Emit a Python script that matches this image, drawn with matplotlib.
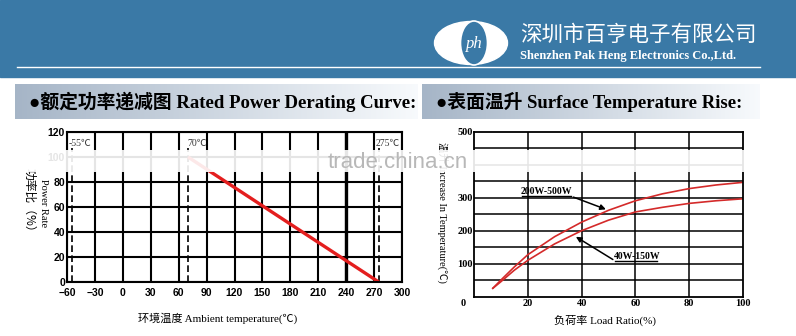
import matplotlib
matplotlib.use('Agg')
import matplotlib.pyplot as plt
import numpy as np
from matplotlib.patches import Rectangle, Ellipse

SERIF = ['Liberation Serif', 'Noto Sans CJK SC']
SANS = ['Liberation Sans', 'Noto Sans CJK SC']
CJK = ['Noto Sans CJK SC', 'DejaVu Sans']
BLUE = '#3a79a6'

# rated power derating curve
derate_temp = [70, 275]
derate_power = [100, 0]
derate_xticks = [-60, -30, 0, 30, 60, 90, 120, 150, 180, 210, 240, 270, 300]
derate_xlabels = ['−60', '−30', '0', '30', '60', '90', '120', '150', '180', '210', '240', '270', '300']
derate_yticks = [0, 20, 40, 60, 80, 100, 120]
derate_marks = [-55, 70, 275]
derate_mark_labels = ['-55℃', '70℃', '275℃']

# surface temperature rise
load = [7, 10, 15, 20, 30, 40, 50, 60, 70, 80, 90, 100]
rise_hi = [25, 50, 90, 127, 182, 226, 262, 291, 312, 328, 339, 347]
rise_lo = [25, 45, 80, 110, 160, 200, 232, 257, 271, 283, 291, 297]
rise_xticks = [20, 40, 60, 80, 100]
rise_yticks = [100, 200, 300, 500]

W, H = 796, 336
fig = plt.figure(figsize=(W / 100, H / 100), dpi=100)

# background layer (pixel coords)
bg = fig.add_axes([0, 0, 1, 1], zorder=0)
bg.set_axis_off()
bg.add_patch(Rectangle((0, 0), W, 77, color=BLUE))
bg.plot([17, 760], [67, 67], color='white', lw=1)

# logo
bg.add_patch(Ellipse((471, 43), 73, 43, color='white'))
bg.add_patch(Ellipse((474, 43), 27, 44, fc=BLUE, ec='white', lw=1.2))
bg.text(474, 44, 'ph', color='white', fontsize=12, style='italic',
        family='Liberation Serif', ha='center', va='center')

bg.text(520, 35, '深圳市百亨电子有限公司', color='white', fontsize=15.5,
        family=CJK, va='center', ha='left')
bg.text(520, 56, 'Shenzhen Pak Heng Electronics Co.,Ltd.', color='white',
        fontsize=9, fontweight='bold', family='Liberation Serif', va='center', ha='left')

# title bars with gradient
c0 = np.array([0.65, 0.71, 0.78])
c1 = np.array([0.97, 0.98, 0.99])
grad = np.linspace(0, 1, 200)[None, :, None]
bar = c0 + (c1 - c0) * grad
bg.imshow(bar, extent=(15, 418, 119, 84), aspect='auto', interpolation='bilinear')
bg.imshow(bar, extent=(422, 760, 119, 84), aspect='auto', interpolation='bilinear')
bg.text(29, 102, '●额定功率递减图 Rated Power Derating Curve:', fontsize=13.5,
        fontweight='bold', family=SERIF, va='center', ha='left')
bg.text(436, 102, '●表面温升 Surface Temperature Rise:', fontsize=13.5,
        fontweight='bold', family=SERIF, va='center', ha='left')

# axis labels
bg.text(29, 203, '功率比（%）', rotation=-90, fontsize=8.5, family=CJK,
        ha='center', va='center')
bg.text(43, 203, 'Power Rate', rotation=-90, fontsize=7.5, family=SERIF,
        ha='center', va='center')
bg.text(218, 318, '环境温度 Ambient temperature(℃)', fontsize=8, family=SERIF,
        ha='center', va='center')
bg.text(443, 212, '温升 Increase In Temperature(℃)', rotation=-90, fontsize=7.5,
        family=SERIF, ha='center', va='center')
bg.text(605, 320, '负荷率 Load Ratio(%)', fontsize=8, family=SERIF,
        ha='center', va='center')
bg.text(463, 303, '0', fontsize=7.5, fontweight='bold', family='Liberation Serif',
        ha='center', va='center')
bg.set_xlim(0, W)
bg.set_ylim(H, 0)

# left chart
ax1 = fig.add_axes([67 / W, 1 - 282 / H, 335 / W, 150 / H], zorder=2)
ax1.set_xlim(-60, 300)
ax1.set_ylim(0, 120)
ax1.set_xticks(derate_xticks, derate_xlabels, fontsize=7.5, fontweight='bold', family='Liberation Sans')
ax1.set_yticks(derate_yticks, [str(v) for v in derate_yticks], fontsize=7.5, fontweight='bold', family='Liberation Sans')
ax1.tick_params(length=0)
ax1.tick_params(axis='x', pad=4)
ax1.tick_params(axis='y', pad=1.5)
ax1.grid(True, color='black', lw=1.5)
ax1.axvline(240, color='black', lw=2.4)
for s in ax1.spines.values():
    s.set_linewidth(1.5)
ax1.vlines(derate_marks, 0, 107, colors='black', lw=1.2, linestyles=(0, (4, 2)))
for xm, lab in zip(derate_marks, derate_mark_labels):
    ax1.text(xm + 9 if xm < 0 else xm + 10, 111, lab, fontsize=7, family=SERIF,
             color='#333333', ha='center', va='center')
ax1.plot(derate_temp, derate_power, color='#e41e1e', lw=2.4, solid_capstyle='butt')

# right chart
ax2 = fig.add_axes([474 / W, 1 - 296.5 / H, 269 / W, 164.5 / H], zorder=2)
ax2.set_xlim(0, 100)
ax2.set_ylim(0, 500)
ax2.set_xticks(rise_xticks, [str(v) for v in rise_xticks], fontsize=7.5, fontweight='bold', family='Liberation Serif')
ax2.set_yticks(rise_yticks, [str(v) for v in rise_yticks], fontsize=7.5, fontweight='bold', family='Liberation Serif')
ax2.tick_params(length=0)
ax2.tick_params(axis='x', pad=2)
ax2.tick_params(axis='y', pad=1)
ax2.vlines([20, 40, 60, 80], 0, 500, colors='black', lw=1.1)
ax2.hlines(np.arange(50, 500, 50), 0, 100, colors='black', lw=1.1)
for s in ax2.spines.values():
    s.set_linewidth(1.3)
ax2.plot(load, rise_hi, color='#d42a2a', lw=1.2)
ax2.plot(load, rise_lo, color='#d42a2a', lw=1.2)

ax2.text(27, 320, '200W-500W', fontsize=7, fontweight='bold', family='Liberation Serif',
         ha='center', va='center')
ax2.plot([18, 36], [305, 305], color='black', lw=1)
ax2.annotate('', xy=(50, 262), xytext=(36, 305),
             arrowprops=dict(arrowstyle='-|>', color='black', lw=1.1, mutation_scale=8))
ax2.text(60.5, 121, '40W-150W', fontsize=7, fontweight='bold', family='Liberation Serif',
         ha='center', va='center')
ax2.plot([52.5, 68], [108, 108], color='black', lw=1)
ax2.annotate('', xy=(37, 186), xytext=(52.5, 108),
             arrowprops=dict(arrowstyle='-|>', color='black', lw=1.1, mutation_scale=8))

# watermark band on top
fg = fig.add_axes([0, 0, 1, 1], zorder=5)
fg.set_axis_off()
fg.patch.set_alpha(0)
fg.add_patch(Rectangle((20, 150), 740, 22, color='white', alpha=0.9, lw=0))
fg.text(328, 162, 'trade.china.cn', fontsize=16, color='#b8b8b8',
        family='Liberation Sans', ha='left', va='center')
fg.set_xlim(0, W)
fg.set_ylim(H, 0)

fig.savefig('out.png', dpi=100)
